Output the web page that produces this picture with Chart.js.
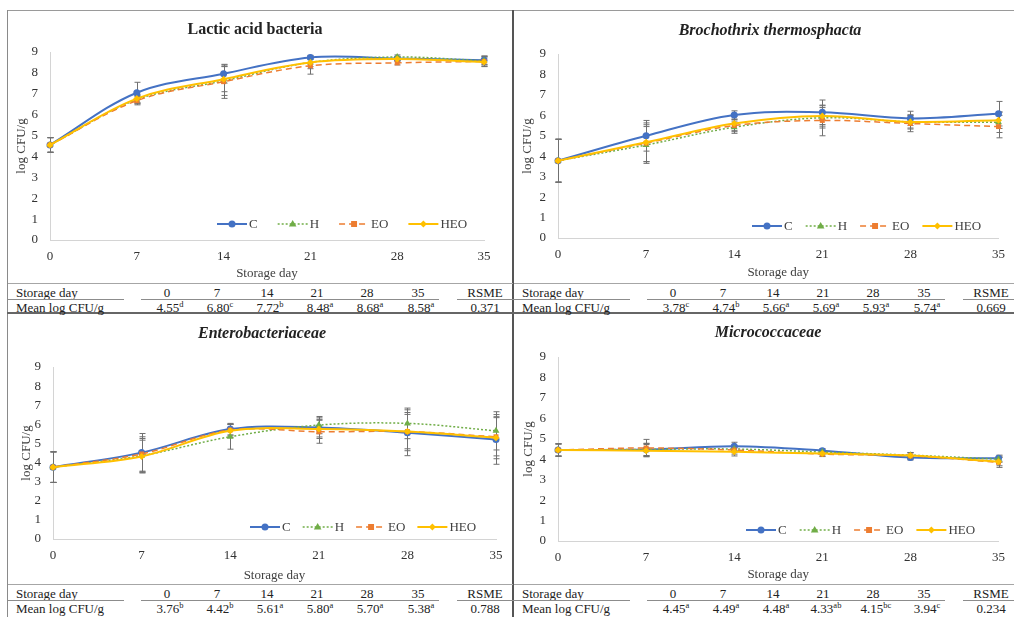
<!DOCTYPE html>
<html>
<head>
<meta charset="utf-8">
<script src="https://cdn.jsdelivr.net/npm/chart.js@4.4.0/dist/chart.umd.min.js"></script>
<style>
  body { margin: 0; background: #fff; font-family: "Liberation Serif", "DejaVu Serif", "Times New Roman", Times, serif; color: #222; }
  #fig { position: relative; width: 1014px; height: 617px; overflow: hidden; }
  canvas { position: absolute; }
  .ttl { position: absolute; font-weight: bold; font-size: 16px; transform: translate(-50%, -50%); white-space: nowrap; }
  .it { font-style: italic; }
  .ln { position: absolute; }
  .cell { position: absolute; font-size: 13px; white-space: nowrap; line-height: 14px; }
  .ctr { transform: translate(-50%, -50%); }
  .lft { transform: translate(0, -50%); }
  sup { font-size: 8.5px; vertical-align: 5px; line-height: 0; }
</style>
</head>
<body>
<div id="fig"></div>

<script>
// storage days (x categories) and treatments
const days = [0, 7, 14, 21, 28, 35];
const treatments = ['C', 'H', 'EO', 'HEO'];

// Lactic acid bacteria
const labC   = [4.55, 7.05, 7.96, 8.74, 8.69, 8.61];
const labH   = [4.55, 6.72, 7.62, 8.50, 8.76, 8.58];
const labEO  = [4.55, 6.67, 7.58, 8.34, 8.48, 8.55];
const labHEO = [4.55, 6.77, 7.70, 8.50, 8.66, 8.52];
const labErrC   = [0.35, 0.50, 0.45, 0.10, 0.10, 0.20];
const labErrH   = [0.35, 0.20, 0.70, 0.30, 0.10, 0.20];
const labErrEO  = [0.35, 0.20, 0.80, 0.40, 0.10, 0.25];
const labErrHEO = [0.35, 0.20, 0.60, 0.20, 0.10, 0.20];
const labMeans   = ['4.55', '6.80', '7.72', '8.48', '8.68', '8.58'];
const labLetters = ['d', 'c', 'b', 'a', 'a', 'a'];
const labRsme = '0.371';

// Brochothrix thermosphacta
const btC   = [3.78, 5.00, 6.02, 6.15, 5.85, 6.08];
const btH   = [3.78, 4.55, 5.42, 5.88, 5.68, 5.66];
const btEO  = [3.78, 4.64, 5.50, 5.75, 5.60, 5.45];
const btHEO = [3.78, 4.68, 5.60, 5.97, 5.68, 5.76];
const btErrC   = [1.05, 0.75, 0.20, 0.60, 0.35, 0.60];
const btErrH   = [1.05, 0.90, 0.30, 0.50, 0.30, 0.50];
const btErrEO  = [1.05, 0.90, 0.30, 0.75, 0.40, 0.55];
const btErrHEO = [1.05, 0.95, 0.35, 0.50, 0.35, 0.40];
const btMeans   = ['3.78', '4.74', '5.66', '5.69', '5.93', '5.74'];
const btLetters = ['c', 'b', 'a', 'a', 'a', 'a'];
const btRsme = '0.669';

// Enterobacteriaceae
const entC   = [3.76, 4.52, 5.75, 5.84, 5.56, 5.21];
const entH   = [3.76, 4.36, 5.35, 5.96, 6.05, 5.66];
const entEO  = [3.76, 4.45, 5.70, 5.61, 5.62, 5.35];
const entHEO = [3.76, 4.32, 5.66, 5.76, 5.62, 5.30];
const entErrC   = [0.80, 1.00, 0.30, 0.50, 1.20, 1.30];
const entErrH   = [0.80, 0.90, 0.65, 0.45, 0.80, 1.00];
const entErrEO  = [0.80, 0.90, 0.30, 0.60, 0.90, 1.00];
const entErrHEO = [0.80, 0.85, 0.35, 0.50, 1.00, 1.10];
const entMeans   = ['3.76', '4.42', '5.61', '5.80', '5.70', '5.38'];
const entLetters = ['b', 'b', 'a', 'a', 'a', 'a'];
const entRsme = '0.788';

// Micrococcaceae
const micC   = [4.45, 4.47, 4.63, 4.42, 4.08, 4.05];
const micH   = [4.45, 4.48, 4.50, 4.35, 4.20, 4.00];
const micEO  = [4.45, 4.55, 4.45, 4.25, 4.16, 3.85];
const micHEO = [4.45, 4.42, 4.36, 4.28, 4.18, 3.88];
const micErrC   = [0.30, 0.30, 0.20, 0.10, 0.12, 0.15];
const micErrH   = [0.30, 0.30, 0.15, 0.10, 0.12, 0.15];
const micErrEO  = [0.30, 0.42, 0.20, 0.12, 0.15, 0.25];
const micErrHEO = [0.30, 0.30, 0.20, 0.12, 0.15, 0.20];
const micMeans   = ['4.45', '4.49', '4.48', '4.33', '4.15', '3.94'];
const micLetters = ['a', 'a', 'a', 'ab', 'bc', 'c'];
const micRsme = '0.234';

const serif = '"Liberation Serif", "DejaVu Serif", "Times New Roman", Times, serif';

// line look per treatment, Excel palette
const styles = [
  { color: '#4472C4', dash: [],     width: 2,   point: 'circle',   r: 3.5, order: 4 },
  { color: '#70AD47', dash: [2, 2], width: 1.5, point: 'triangle', r: 4,   order: 3 },
  { color: '#ED7D31', dash: [6, 4], width: 1.5, point: 'rect',     r: 3.5, order: 2 },
  { color: '#FFC000', dash: [],     width: 2,   point: 'rectRot',  r: 3.5, order: 1 }
];

function drawMarker(ctx, style, x, y, r, color) {
  ctx.fillStyle = color;
  ctx.beginPath();
  if (style === 'circle') {
    ctx.arc(x, y, r, 0, Math.PI * 2);
  } else if (style === 'triangle') {
    ctx.moveTo(x, y - r);
    ctx.lineTo(x + r * 0.95, y + r * 0.65);
    ctx.lineTo(x - r * 0.95, y + r * 0.65);
    ctx.closePath();
  } else if (style === 'rect') {
    ctx.rect(x - r * 0.85, y - r * 0.85, r * 1.7, r * 1.7);
  } else {
    ctx.moveTo(x, y - r); ctx.lineTo(x + r, y); ctx.lineTo(x, y + r); ctx.lineTo(x - r, y);
    ctx.closePath();
  }
  ctx.fill();
}

// grey +/- error bars under the lines
const errorBars = {
  id: 'errorBars',
  beforeDatasetsDraw(chart) {
    const { ctx } = chart;
    const ys = chart.scales.y;
    ctx.save();
    ctx.strokeStyle = '#707070';
    ctx.lineWidth = 1;
    chart.data.datasets.forEach((ds, i) => {
      chart.getDatasetMeta(i).data.forEach((pt, j) => {
        const v = ds.data[j], e = ds.errors[j];
        const x = Math.round(pt.x) + 0.5;
        const top = ys.getPixelForValue(v + e), bot = ys.getPixelForValue(v - e);
        ctx.beginPath();
        ctx.moveTo(x, top); ctx.lineTo(x, bot);
        ctx.moveTo(x - 3, top); ctx.lineTo(x + 3, top);
        ctx.moveTo(x - 3, bot); ctx.lineTo(x + 3, bot);
        ctx.stroke();
      });
    });
    ctx.restore();
  }
};

// legend drawn inside the plot, bottom right
const insideLegend = {
  id: 'insideLegend',
  afterDatasetsDraw(chart, args, opts) {
    const { ctx, chartArea } = chart;
    let x = chartArea.left + opts.start;
    const y = chartArea.bottom - opts.lift;
    ctx.save();
    ctx.font = '13px ' + serif;
    ctx.textBaseline = 'middle';
    chart.data.datasets.forEach((ds, i) => {
      const st = styles[i];
      ctx.strokeStyle = st.color;
      ctx.lineWidth = st.width;
      ctx.setLineDash(st.dash);
      ctx.beginPath(); ctx.moveTo(x, y); ctx.lineTo(x + 30, y); ctx.stroke();
      ctx.setLineDash([]);
      drawMarker(ctx, st.point, x + 15, y, st.r, st.color);
      ctx.fillStyle = '#404040';
      ctx.fillText(ds.label, x + 32, y + 1);
      x += 32 + ctx.measureText(ds.label).width + opts.gap;
    });
    ctx.restore();
  }
};

Chart.defaults.font.family = serif;
Chart.defaults.font.size = 13;
Chart.defaults.color = '#404040';

const fig = document.getElementById('fig');

function addLine(x, y, w, h, color) {
  const d = document.createElement('div');
  d.className = 'ln';
  Object.assign(d.style, { left: x + 'px', top: y + 'px', width: w + 'px', height: h + 'px', background: color });
  fig.appendChild(d);
}

function addText(cls, html, x, y) {
  const d = document.createElement('div');
  d.className = cls;
  d.innerHTML = html;
  d.style.left = x + 'px';
  d.style.top = y + 'px';
  fig.appendChild(d);
  return d;
}

function makePanel(p) {
  const [bx, by, bw, bh] = p.box;
  const [al, at, ar, ab] = p.area;
  const cv = document.createElement('canvas');
  cv.width = bw; cv.height = bh;
  cv.style.left = bx + 'px'; cv.style.top = by + 'px';
  fig.appendChild(cv);

  const datasets = p.series.map((vals, i) => ({
    label: treatments[i],
    data: vals,
    errors: p.errs[i],
    borderColor: styles[i].color,
    backgroundColor: styles[i].color,
    borderWidth: styles[i].width,
    borderDash: styles[i].dash,
    pointStyle: styles[i].point,
    pointRadius: styles[i].r,
    pointBorderWidth: 0,
    tension: 0.35,
    order: styles[i].order,
    clip: false
  }));

  new Chart(cv, {
    type: 'line',
    data: { labels: days, datasets },
    options: {
      responsive: false,
      animation: false,
      layout: { padding: { left: 0, top: at - by, right: bx + bw - ar, bottom: 0 } },
      plugins: {
        legend: { display: false },
        tooltip: { enabled: false },
        insideLegend: p.legend
      },
      scales: {
        x: {
          offset: false,
          grid: { display: false, drawTicks: false },
          border: { display: true, color: '#d4d4d4', width: 1 },
          ticks: { padding: 9, maxRotation: 0, color: '#333' },
          title: { display: true, text: 'Storage day', color: '#404040',
                   padding: { top: 0, bottom: by + bh - 7.8 - p.xTitleY } },
          afterFit: s => { s.height = by + bh - ab; }
        },
        y: {
          min: 0, max: 9,
          grid: { display: false, drawTicks: false },
          border: { display: true, color: '#d4d4d4', width: 1 },
          ticks: { stepSize: 1, padding: 12, color: '#333' },
          title: { display: true, text: 'log CFU/g', color: '#404040',
                   padding: { top: p.yTitleX - bx - 7.8, bottom: 0 } },
          afterFit: s => { s.width = al - bx; }
        }
      }
    },
    plugins: [errorBars, insideLegend]
  });

  // panel heading
  addText('ttl' + (p.italic ? ' it' : ''), p.title, p.titleAt[0], p.titleAt[1]);

  // summary table under the plot
  const t = p.tableTop;
  addLine(bx, t, bw, 1, '#a6a6a6');
  const cols = [159, 209, 259, 309, 359, 410];
  addText('cell lft', 'Storage day', bx + 8, t + 9.5);
  addText('cell lft', 'Mean log CFU/g', bx + 8, t + 25);
  days.forEach((d, i) => {
    addText('cell ctr', String(d), bx + cols[i], t + 9.5);
    addText('cell ctr', p.means[i] + '<sup>' + p.letters[i] + '</sup>', bx + cols[i] + 3, t + 25);
  });
  addText('cell ctr', 'RSME', bx + 477, t + 9.5);
  addText('cell ctr', p.rsme, bx + 477, t + 25);
  addLine(bx, t + 16, 116, 1, '#8c8c8c');
  addLine(bx + 133, t + 16, 298, 1, '#8c8c8c');
  addLine(bx + 449, t + 16, 60, 1, '#8c8c8c');
}

const panels = [
  { title: 'Lactic acid bacteria', italic: false, titleAt: [255, 29],
    box: [8, 11, 505, 272], area: [50, 52, 484, 240], yTitleX: 22, xTitleY: 274,
    legend: { start: 167, lift: 16, gap: 20 }, tableTop: 283,
    series: [labC, labH, labEO, labHEO], errs: [labErrC, labErrH, labErrEO, labErrHEO],
    means: labMeans, letters: labLetters, rsme: labRsme },
  { title: 'Brochothrix thermosphacta', italic: true, titleAt: [770, 30],
    box: [514, 11, 500, 272], area: [558, 54, 1006, 238], yTitleX: 528, xTitleY: 273,
    legend: { start: 194, lift: 12, gap: 13 }, tableTop: 283,
    series: [btC, btH, btEO, btHEO], errs: [btErrC, btErrH, btErrEO, btErrHEO],
    means: btMeans, letters: btLetters, rsme: btRsme },
  { title: 'Enterobacteriaceae', italic: true, titleAt: [262, 333],
    box: [8, 314, 505, 270], area: [53, 367, 496, 539], yTitleX: 27, xTitleY: 576,
    legend: { start: 197, lift: 12, gap: 12 }, tableTop: 584,
    series: [entC, entH, entEO, entHEO], errs: [entErrC, entErrH, entErrEO, entErrHEO],
    means: entMeans, letters: entLetters, rsme: entRsme },
  { title: 'Micrococcaceae', italic: true, titleAt: [768, 332],
    box: [514, 314, 500, 270], area: [558, 357, 1003, 541], yTitleX: 529, xTitleY: 575,
    legend: { start: 188, lift: 11, gap: 13 }, tableTop: 584,
    series: [micC, micH, micEO, micHEO], errs: [micErrC, micErrH, micErrEO, micErrHEO],
    means: micMeans, letters: micLetters, rsme: micRsme }
];

// figure frame
addLine(7, 10, 1007, 1, '#9a9a9a');
addLine(7, 10, 1, 607, '#8a8a8a');
addLine(512, 10, 2, 607, '#555');
addLine(7, 312, 1007, 2, '#666');

panels.forEach(makePanel);
</script>
</body>
</html>
